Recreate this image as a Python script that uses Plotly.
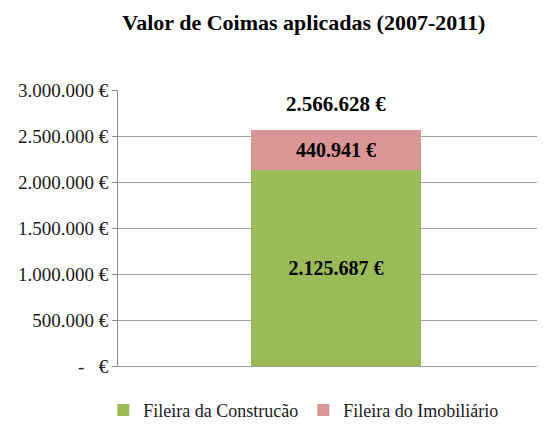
import plotly.graph_objects as go

categorias = ["2007-2011"]
construcao = [2125687]
imobiliario = [440941]
total = [2566628]
tick_vals = [0, 500000, 1000000, 1500000, 2000000, 2500000, 3000000]
tick_text = ["-   €", "500.000 €", "1.000.000 €", "1.500.000 €",
             "2.000.000 €", "2.500.000 €", "3.000.000 €"]


def fmt(v):
    return f"{v:,}".replace(",", ".") + " €"


serif = "Liberation Serif"
label_font = dict(family=serif, size=20, color="black", weight="bold")

fig = go.Figure()
fig.add_trace(go.Bar(
    name="Fileira da Construcão", x=categorias, y=construcao,
    marker_color="#9BBB59", marker_line_width=0, width=0.4,
    text=[fmt(v) for v in construcao], textposition="inside",
    insidetextanchor="middle", textangle=0, textfont=label_font,
))
fig.add_trace(go.Bar(
    name="Fileira do Imobiliário", x=categorias, y=imobiliario,
    marker_color="#D99694", marker_line_width=0, width=0.4,
    text=[fmt(v) for v in imobiliario], textposition="inside",
    insidetextanchor="middle", textangle=0, textfont=label_font,
))
fig.add_annotation(
    x=categorias[0], y=total[0], text="<b>" + fmt(total[0]) + "</b>",
    showarrow=False, yshift=26, font=dict(family=serif, size=21, color="black"),
)

# page body keeps an 8px margin, so the figure is sized to the visible area
fig.update_layout(
    barmode="stack",
    width=537, height=417,
    margin=dict(l=110, r=1, t=82, b=59),
    paper_bgcolor="white", plot_bgcolor="white",
    title=dict(text="<b>Valor de Coimas aplicadas (2007-2011)</b>",
               x=0.551, xanchor="center", y=0.966, yanchor="middle",
               font=dict(family=serif, size=22, color="black")),
    font=dict(family=serif, size=19, color="#1a1a1a"),
    showlegend=True,
    legend=dict(orientation="h", xref="container", x=0.55, xanchor="center",
                yref="container", y=0.035, yanchor="middle",
                font=dict(family=serif, size=18, color="#1a1a1a"),
                itemwidth=30, traceorder="normal"),
)
fig.update_yaxes(
    range=[0, 3000000], tickvals=tick_vals, ticktext=tick_text,
    showgrid=True, gridcolor="#A0A0A0", gridwidth=1,
    showline=True, linecolor="#8C8C8C", linewidth=1,
    ticks="outside", ticklen=5, tickcolor="#8C8C8C",
    zeroline=False, tickfont=dict(family=serif, size=19, color="#1a1a1a"),
)
fig.update_xaxes(
    range=[-0.512, 0.488],
    showline=True, linecolor="#A0A0A0", linewidth=1,
    showticklabels=False, ticks="",
)

fig.write_html("out.html")
